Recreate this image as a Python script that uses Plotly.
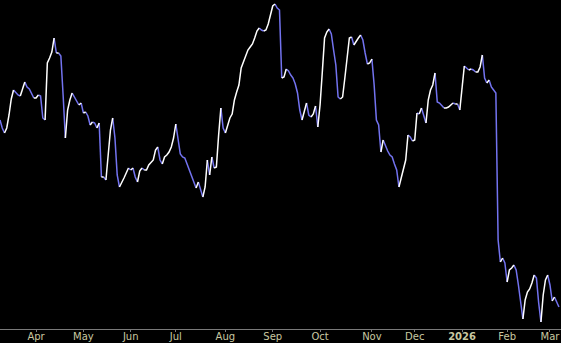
import pandas as pd
import plotly.graph_objects as go

# trading calendar (weekdays minus market holidays)
start_date = "2025-03-10"
end_date = "2026-03-06"
holidays = ["2025-04-18", "2025-05-26", "2025-06-19", "2025-07-04", "2025-09-01",
            "2025-11-27", "2025-12-24", "2025-12-25", "2026-01-01", "2026-01-19",
            "2026-02-16"]

# closing values (arbitrary units)
values = [
    209, 201, 196, 201, 214, 230, 239, 236, 234, 233,
    239, 247, 242, 240, 236, 231, 231, 234, 233, 211,
    209, 266, 271, 277, 291, 276, 276, 273, 234, 191,
    219, 229, 236, 232, 227, 224, 226, 216, 217, 213,
    204, 207, 206, 201, 206, 152, 152, 149, 179, 199,
    211, 191, 154, 142, 146, 151, 156, 161, 159, 161,
    152, 147, 158, 161, 159, 159, 164, 166, 169, 179,
    182, 169, 165, 172, 174, 177, 182, 191, 205, 189,
    175, 172, 171, 165, 159, 155, 147, 141, 147, 139,
    132, 142, 169, 154, 172, 161, 162, 194, 221, 201,
    196, 203, 211, 215, 229, 237, 244, 261, 267, 272,
    279, 282, 285, 291, 298, 301, 299, 298, 299, 305,
    315, 323, 325, 321, 319, 251, 252, 260, 258, 254,
    251, 245, 236, 219, 209, 219, 226, 214, 212, 215,
    223, 202, 224, 257, 291, 297, 300, 295, 279, 264,
    232, 230, 232, 251, 274, 291, 292, 284, 288, 291,
    294, 289, 276, 265, 266, 270, 244, 209, 204, 177,
    189, 183, 178, 174, 172, 165, 159, 142, 151, 157,
    169, 194, 192, 188, 189, 216, 215, 221, 212, 206,
    229, 239, 244, 256, 227, 226, 223, 221, 221, 222,
    224, 226, 225, 225, 219, 241, 263, 261, 259, 260,
    259, 257, 257, 262, 274, 251, 246, 249, 242, 239,
    236, 89, 67, 71, 66, 47, 59, 61, 64, 59,
    44, 24, 10, 29, 37, 40, 46, 54, 51, 26,
    7, 34, 49, 54, 44, 28, 32, 27, 22,
]

month_labels = ["Apr", "May", "Jun", "Jul", "Aug", "Sep", "Oct", "Nov", "Dec",
                "<b>2026</b>", "Feb", "Mar"]

dates = pd.bdate_range(start_date, end_date)
dates = dates[~dates.isin(pd.to_datetime(holidays))]
n = min(len(dates), len(values))
dates = dates[:n]
values = values[:n]
idx = list(range(n))

# first trading day of each month from April on
tickvals = []
prev = None
for i, d in enumerate(dates):
    key = (d.year, d.month)
    if prev is not None and key != prev:
        tickvals.append(i)
    prev = key
tickvals = tickvals[:len(month_labels)]

# split into rising (white) and falling (blue) runs
up_x, up_y, dn_x, dn_y = [], [], [], []
i = 0
while i < n - 1:
    rising = values[i + 1] >= values[i]
    j = i
    while j < n - 1 and (values[j + 1] >= values[j]) == rising:
        j += 1
    xs = idx[i:j + 1]
    ys = values[i:j + 1]
    if rising:
        up_x += xs + [None]
        up_y += ys + [None]
    else:
        dn_x += xs + [None]
        dn_y += ys + [None]
    i = j

fig = go.Figure()
fig.add_trace(go.Scatter(x=dn_x, y=dn_y, mode="lines", connectgaps=False,
                         line=dict(color="#7373f0", width=1.5), hoverinfo="skip",
                         showlegend=False))
fig.add_trace(go.Scatter(x=up_x, y=up_y, mode="lines", connectgaps=False,
                         line=dict(color="#ffffff", width=1.5), hoverinfo="skip",
                         showlegend=False))

fig.update_layout(
    width=561, height=343,
    margin=dict(l=0, r=0, t=0, b=14, pad=0, autoexpand=False),
    paper_bgcolor="black", plot_bgcolor="black",
    showlegend=False,
    xaxis=dict(range=[0, 248.9], tickvals=tickvals, ticktext=month_labels,
               automargin=False,
               showgrid=False, zeroline=False, showline=True, linecolor="#7a7a7a",
               linewidth=1, ticks="outside", ticklen=2, tickcolor="#7a7a7a",
               ticklabelstandoff=-4,
               tickfont=dict(family="DejaVu Sans", size=10, color="#c8c8a0")),
    yaxis=dict(range=[0, 329], visible=False, showgrid=False, zeroline=False,
               automargin=False),
)

fig.write_html("out.html")
